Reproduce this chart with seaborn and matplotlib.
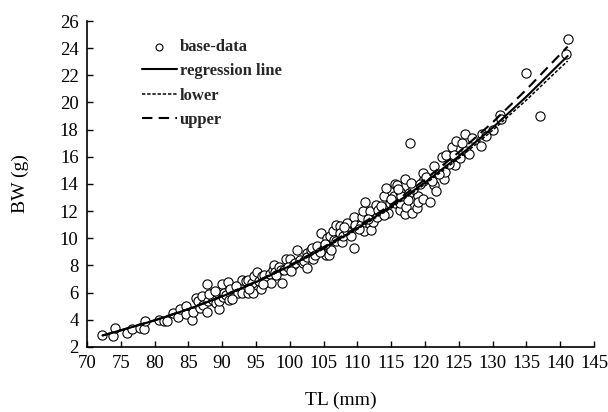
import numpy as np
import pandas as pd
import matplotlib
matplotlib.use("Agg")
import matplotlib.pyplot as plt
import seaborn as sns

# ---- data ----
tl = [72.3, 73.9, 74.2, 75.9, 76.6, 77.9, 78.4, 78.6, 80.6, 81.4, 81.9, 82.7, 83.5, 83.7,
      84.6, 84.6, 85.5, 85.7, 86.2, 86.4, 86.65, 87.0, 87.2, 87.8, 87.8, 87.9, 88.6, 88.6,
      89.1, 89.6, 89.6, 89.6, 90.0, 90.1, 90.3, 90.6, 90.8, 91.0, 91.1, 92.4, 93.0, 93.0,
      93.5, 93.8, 93.8, 94.4, 94.5, 94.75, 95.1, 95.5, 95.7, 95.9, 96.2, 96.5, 97.1, 97.2,
      97.45, 97.7, 97.8, 98.4, 98.65, 98.9, 99.2, 99.4, 100.1, 100.5, 100.75, 101.0, 101.5,
      101.9, 102.1, 102.6, 102.6, 102.6, 103.1, 103.4, 103.35, 103.7, 104.1, 104.6, 105.0,
      105.3, 105.55, 105.55, 105.8, 106.1, 106.0, 106.4, 106.5, 106.8, 106.9, 107.5, 107.5,
      107.75, 107.9, 108.5, 108.5, 109.5, 109.5, 109.6, 110.6, 110.7, 110.9, 111.0, 111.2,
      111.9, 112.0, 112.3, 112.7, 112.9, 113.9, 114.3, 114.5, 114.8, 115.4, 115.6, 115.6,
      115.8, 116.3, 116.3, 116.3, 116.4, 117.0, 117.0, 117.2, 117.7, 117.8, 118.1, 118.8,
      118.9, 119.0, 119.7, 119.7, 119.7, 120.7, 121.3, 121.3, 121.7, 122.5, 122.75, 122.9,
      123.1, 124.0, 124.5, 124.6, 125.2, 125.5, 125.9, 126.0, 128.25, 128.5, 130.0, 131.1,
      131.3, 134.9, 137.0, 140.8, 141.1,
      88.0, 89.0, 91.5, 92.0, 94.0, 96.0, 98.0, 99.7, 100.2, 104.5, 105.2, 108.0, 109.0,
      110.2, 111.5, 113.0, 113.5, 114.0, 115.0, 116.0, 117.5, 118.3, 118.0, 119.3, 120.2,
      121.0, 122.0, 123.5, 124.3, 126.5, 127.0, 129.0]
bw = [2.9, 2.8, 3.4, 3.0, 3.3, 3.4, 3.35, 3.9, 4.0, 3.9, 3.9, 4.5, 4.2, 4.8,
      5.0, 4.4, 4.0, 4.6, 5.6, 5.35, 4.85, 5.75, 5.1, 6.6, 4.6, 5.35, 6.0, 5.45,
      5.2, 4.8, 5.8, 5.35, 6.6, 5.7, 6.0, 5.8, 6.8, 5.45, 6.3, 6.0, 6.9, 5.95,
      6.85, 6.9, 5.95, 6.7, 5.95, 7.2, 7.5, 6.85, 6.3, 7.2, 7.3, 6.8, 7.4, 6.7,
      7.7, 8.05, 7.55, 7.9, 7.7, 6.7, 7.7, 8.5, 8.5, 8.05, 8.15, 9.1, 8.4,
      8.15, 8.3, 7.8, 8.9, 8.6, 9.15, 8.5, 9.3, 8.8, 9.4, 10.4, 9.3,
      8.8, 10.0, 9.5, 8.8, 9.1, 10.2, 10.5, 9.9, 11.0, 9.8, 10.9, 10.4,
      9.7, 10.2, 11.1, 10.5, 11.6, 9.3, 11.0, 11.0, 11.6, 12.0, 10.5, 12.7,
      12.0, 10.6, 11.2, 12.45, 11.6, 13.1, 13.7, 11.85, 12.6, 13.1, 12.6, 14.0,
      13.9, 13.4, 12.1, 12.6, 13.1, 14.4, 11.8, 12.3, 13.3, 17.05, 11.85, 12.2,
      13.1, 12.7, 14.8, 14.2, 12.9, 12.65, 15.3, 13.9, 13.5, 16.0, 14.4, 14.9,
      16.1, 16.7, 15.4, 17.2, 15.9, 17.05, 17.65, 16.4, 16.8, 17.7, 18.0, 19.1,
      18.8, 22.15, 19.0, 23.6, 24.65,
      5.9, 6.1, 5.5, 6.5, 6.3, 6.6, 7.3, 7.9, 7.6, 9.0, 9.6, 10.8, 10.2,
      10.7, 11.4, 12.1, 12.4, 11.7, 12.9, 13.6, 12.8, 13.6, 14.1, 14.0, 14.5,
      14.2, 14.7, 15.5, 16.1, 16.2, 17.4, 17.5]

line_tl = [72.3, 75, 80, 85, 90, 95, 100, 105, 110, 115, 120, 125, 130, 135, 140, 141.1]
reg_bw = [2.84, 3.22, 3.95, 4.78, 5.72, 6.78, 7.96, 9.28, 10.74, 12.35, 14.11, 16.04, 18.14, 20.43, 22.89, 23.42]
lower_bw = [2.84, 3.22, 3.94, 4.77, 5.70, 6.75, 7.92, 9.22, 10.66, 12.24, 13.98, 15.88, 17.95, 20.18, 22.55, 23.05]
upper_bw = [2.84, 3.22, 3.96, 4.79, 5.74, 6.81, 8.01, 9.35, 10.84, 12.49, 14.32, 16.34, 18.53, 20.95, 23.55, 24.12]

x_ticks = list(range(70, 146, 5))
y_ticks = list(range(2, 27, 2))

pts = pd.DataFrame({"TL": tl, "BW": bw})
lines = pd.DataFrame({"TL": line_tl, "reg": reg_bw, "lower": lower_bw, "upper": upper_bw})

sns.set_theme(style="ticks")
plt.rcParams["font.family"] = ["Liberation Serif", "DejaVu Serif"]
plt.rcParams["xtick.direction"] = "in"
plt.rcParams["ytick.direction"] = "in"

fig = plt.figure(figsize=(6.08, 4.12), dpi=100)
ax = fig.add_axes([0.143, 0.158, 0.834, 0.791])

sns.scatterplot(data=pts, x="TL", y="BW", ax=ax, marker="o", s=44,
                facecolor="white", edgecolor="black", linewidth=0.8,
                label="base-data", zorder=2)
sns.lineplot(data=lines, x="TL", y="reg", ax=ax, color="black", lw=1.5,
             label="regression line", zorder=3)
sns.lineplot(data=lines, x="TL", y="lower", ax=ax, color="black", lw=1.1,
             dashes=False, label="lower", zorder=3)
ax.lines[-1].set_dashes((2.2, 1.2))
sns.lineplot(data=lines, x="TL", y="upper", ax=ax, color="black", lw=1.5,
             label="upper", zorder=3)
ax.lines[-1].set_dashes((5, 3))

ax.set_xlim(70, 145)
ax.set_ylim(2, 26)
ax.set_xticks(x_ticks)
ax.set_yticks(y_ticks)
ax.tick_params(axis="both", labelsize=13.5, length=4, width=1, color="black",
               labelcolor="black", pad=6)
for s in ["top", "right"]:
    ax.spines[s].set_visible(False)
for s in ["left", "bottom"]:
    ax.spines[s].set_color("black")
    ax.spines[s].set_linewidth(1.2)

ax.set_xlabel("TL (mm)", fontsize=14, color="black", labelpad=14)
ax.set_ylabel("BW (g)", fontsize=14, color="black", labelpad=22)

leg = ax.legend(loc="upper left", bbox_to_anchor=(0.108, 0.945), frameon=False,
                prop={"family": "Liberation Serif", "weight": "bold", "size": 12},
                handlelength=2.1, handletextpad=0.2, labelspacing=0.5,
                borderpad=0, borderaxespad=0, markerscale=0.75)

fig.savefig("out.png", dpi=100)
